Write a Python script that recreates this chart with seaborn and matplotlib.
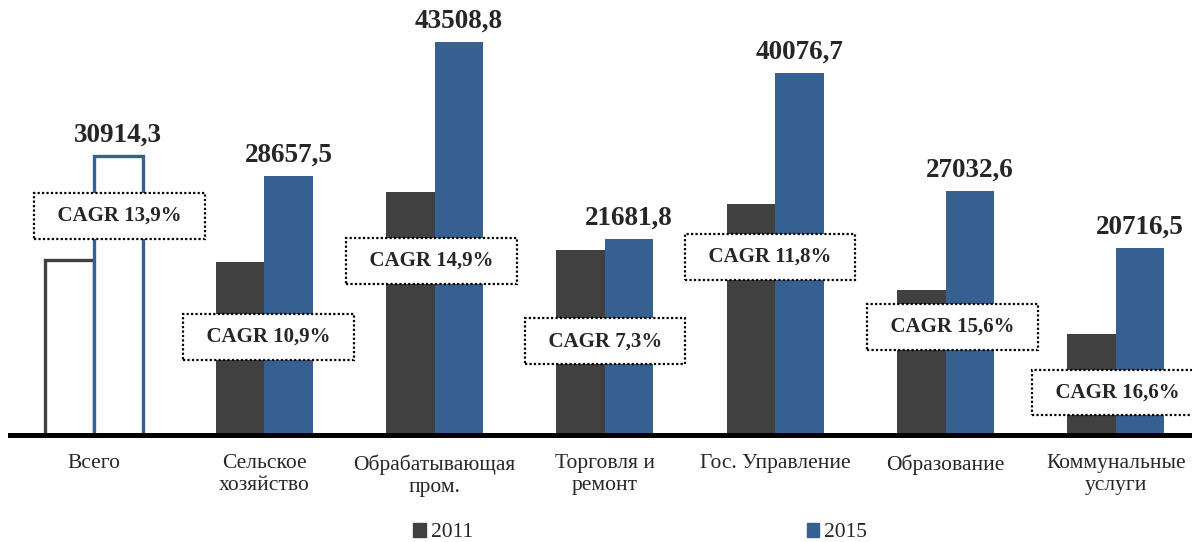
import pandas as pd
import matplotlib.pyplot as plt
import seaborn as sns

categories = ["Всего", "Сельское\nхозяйство", "Обрабатывающая\nпром.", "Торговля и\nремонт",
              "Гос. Управление", "Образование", "Коммунальные\nуслуги"]
values_2011 = [19400, 19190, 26930, 20480, 25600, 16020, 11150]
values_2015 = [30914.3, 28657.5, 43508.8, 21681.8, 40076.7, 27032.6, 20716.5]
cagr_labels = ["CAGR 13,9%", "CAGR 10,9%", "CAGR 14,9%", "CAGR 7,3%",
               "CAGR 11,8%", "CAGR 15,6%", "CAGR 16,6%"]

# where the CAGR boxes sit: shift from group centre, height in data units
cagr_dx = [0.15, 0.023, -0.02, 0.0, -0.03, 0.04, 0.01]
cagr_y = [24240, 10880, 19260, 10370, 19740, 11980, 4700]

COLOR_2011 = "#404040"
COLOR_2015 = "#376092"

df = pd.DataFrame({
    "category": categories * 2,
    "year": ["2011"] * len(categories) + ["2015"] * len(categories),
    "value": values_2011 + values_2015,
})

sns.set_style("white")
plt.rcParams["font.family"] = ["Liberation Serif", "DejaVu Serif"]

fig = plt.figure(figsize=(11.92, 5.42), dpi=100)
ax = fig.add_axes([10 / 1192, 0.1974, 1 - 10 / 1192, 1 - 0.1974])

sns.barplot(data=df, x="category", y="value", hue="year", hue_order=["2011", "2015"],
            palette=[COLOR_2011, COLOR_2015], saturation=1, width=0.57, gap=0,
            linewidth=0, legend=False, ax=ax)

# first group is drawn as hollow outlines
for cont, col in zip(ax.containers, [COLOR_2011, COLOR_2015]):
    bar = cont[0]
    bar.set_facecolor("white")
    bar.set_edgecolor(col)
    bar.set_linewidth(2.4)

labels_2015 = [f"{v:.1f}".replace(".", ",") for v in values_2015]
ax.bar_label(ax.containers[1], labels=labels_2015, padding=6,
             fontsize=19.5, fontweight="bold")

for i, lab in enumerate(cagr_labels):
    ax.text(i + cagr_dx[i], cagr_y[i], "  " + lab + "  ", ha="center", va="center",
            fontsize=15, fontweight="bold", zorder=5, clip_on=False,
            bbox=dict(boxstyle="square,pad=0.62", fc="white", ec="black",
                      lw=1.6, ls=(0, (1, 1))))

ax.set_xlim(-0.493, 6.447)
ax.set_ylim(0, 48150)
ax.set_xlabel("")
ax.set_ylabel("")
ax.set_yticks([])
ax.set_xticks(range(len(categories)))
ax.set_xticklabels(categories, fontsize=15.5, linespacing=1.2)
ax.tick_params(axis="x", length=0, pad=14)

for s in ["top", "left", "right"]:
    ax.spines[s].set_visible(False)
ax.spines["bottom"].set_linewidth(3.6)
ax.spines["bottom"].set_color("black")
ax.spines["bottom"].set_zorder(6)

handles = [plt.Rectangle((0, 0), 1, 1, color=COLOR_2011),
           plt.Rectangle((0, 0), 1, 1, color=COLOR_2015)]
fig.legend(handles, ["2011", "2015"], loc="center", bbox_to_anchor=(0.537, 0.017),
           ncol=2, frameon=False, fontsize=15.5, handlelength=0.6, handleheight=0.6,
           handletextpad=0.2, columnspacing=15.5)

fig.savefig("out.png", dpi=100)
